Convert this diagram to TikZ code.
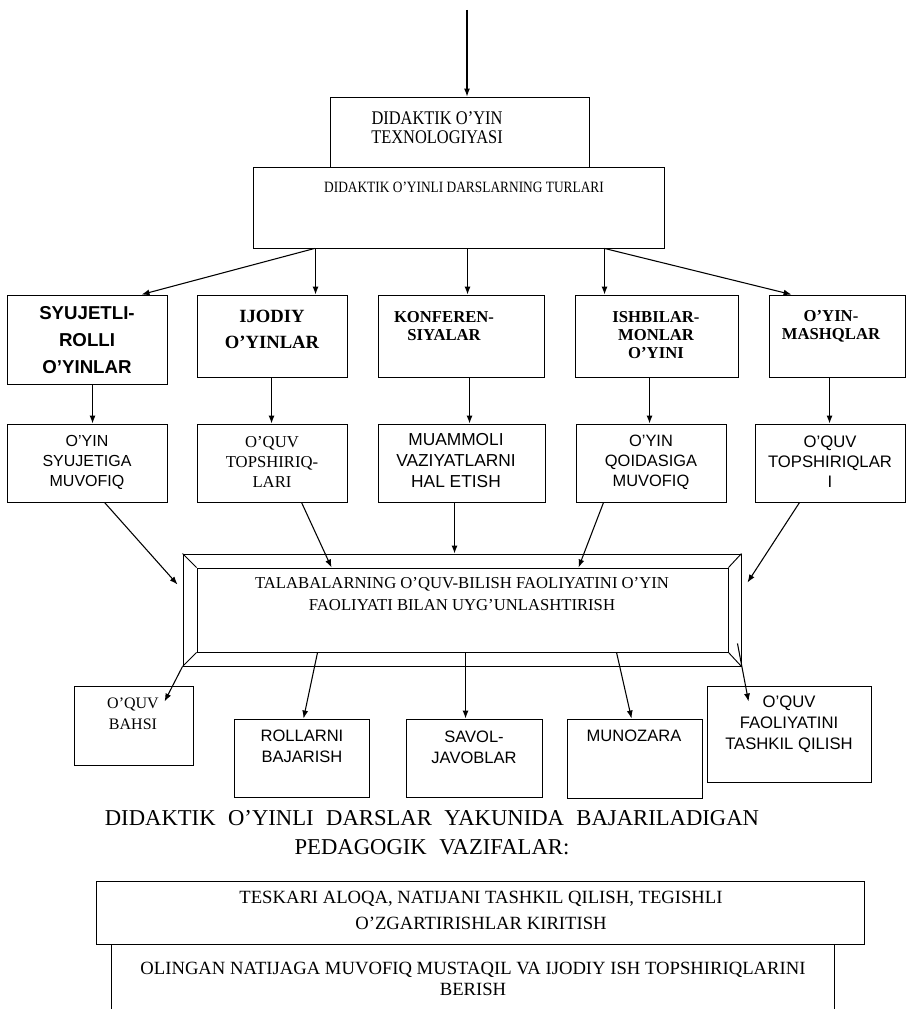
\documentclass[tikz,border=0pt]{standalone}
\usepackage{fontspec}
\setmainfont{Liberation Serif}
\newfontfamily\arialfont[Ligatures=TeX]{Liberation Sans}
\newfontfamily\narrowserif[FakeStretch=0.85,Ligatures=TeX]{Liberation Serif}
\usetikzlibrary{arrows.meta,positioning,fit,calc}

\newcommand{\fsz}[2]{\fontsize{#1}{#2}\selectfont}
\newcommand{\widesp}{\spaceskip=0.55em\relax}

\begin{document}
\begin{tikzpicture}[x=0.75pt,y=-0.75pt,>={Latex[length=6pt,width=4.5pt]}]
	\tikzstyle{box}
	  =[draw, rectangle, inner sep=0pt, line width=0.7pt]
	\tikzstyle{txt}
	  =[inner sep=0pt, align=center]
	\tikzstyle{arr}
	  =[->, line width=0.8pt]

	\useasboundingbox (0,0) rectangle (912,1009);

	% top
	\coordinate (source) at (467,10);
	\node[box,fit={(330,97) (589,167)}] (technology) {};
	\node[txt,font=\narrowserif\fsz{14.5}{14.25}] (technology_t)
	  at (437,127.5) {DIDAKTIK O'YIN\\ TEXNOLOGIYASI};
	\node[box,fit={(253,167) (664,248)}] (types) {};
	\node[txt,font=\narrowserif\fsz{11.8}{14}] (types_t)
	  at (464,187) {DIDAKTIK O'YINLI DARSLARNING TURLARI};

	% kinds of lessons
	\node[box,fit={(7,295) (167,384)}] (story_role) {};
	\node[txt,font=\arialfont\bfseries\fsz{14}{20}] (story_role_t)
	  at (87,340) {SYUJETLI-\\ROLLI\\O'YINLAR};
	\node[box,fit={(197,295) (347,377)}] (creative) {};
	\node[txt,font=\bfseries\fsz{14}{19}] (creative_t)
	  at (272,329.5) {IJODIY\\O'YINLAR};
	\node[box,fit={(378,295) (544,377)}] (conference) {};
	\node[txt,font=\bfseries\fsz{12.5}{13.5}] (conference_t)
	  at (444,326) {KONFEREN-\\SIYALAR};
	\node[box,fit={(575,295) (738,377)}] (business) {};
	\node[txt,font=\bfseries\fsz{12.5}{13.5}] (business_t)
	  at (656,335) {ISHBILAR-\\MONLAR\\O'YINI};
	\node[box,fit={(769,295) (905,377)}] (exercise) {};
	\node[txt,font=\bfseries\fsz{12.5}{13.5}] (exercise_t)
	  at (831,326) {O'YIN-\\MASHQLAR};

	% second row
	\node[box,fit={(7,424) (167,502)}] (story_plot) {};
	\node[txt,font=\arialfont\fsz{12}{15}] (story_plot_t)
	  at (87,462) {O'YIN\\SYUJETIGA\\MUVOFIQ};
	\node[box,fit={(197,424) (347,502)}] (tasks) {};
	\node[txt,font=\fsz{12.5}{15}] (tasks_t)
	  at (272,462) {O'QUV\\TOPSHIRIQ-\\LARI};
	\node[box,fit={(378,424) (545,502)}] (problem) {};
	\node[txt,font=\arialfont\fsz{13}{15.75}] (problem_t)
	  at (456,461) {MUAMMOLI\\VAZIYATLARNI\\HAL ETISH};
	\node[box,fit={(576,424) (726,502)}] (game_rule) {};
	\node[txt,font=\arialfont\fsz{12.3}{15}] (game_rule_t)
	  at (651,462) {O'YIN\\QOIDASIGA\\MUVOFIQ};
	\node[box,fit={(755,424) (905,502)}] (tasks_b) {};
	\node[txt,font=\arialfont\fsz{12.5}{15}] (tasks_b_t)
	  at (830,462) {O'QUV\\TOPSHIRIQLAR\\I};

	% central frame
	\node[box,fit={(183,554) (741,666)}] (combine) {};
	\node[box,fit={(197,568) (728,652)}] (combine_in) {};
	\draw[line width=0.7pt] (combine.north west)--(combine_in.north west);
	\draw[line width=0.7pt] (combine.north east)--(combine_in.north east);
	\draw[line width=0.7pt] (combine.south west)--(combine_in.south west);
	\draw[line width=0.7pt] (combine.south east)--(combine_in.south east);
	\node[txt,font=\fsz{12.5}{16.5}] (combine_t)
	  at (462,594) {TALABALARNING O'QUV-BILISH FAOLIYATINI O'YIN\\FAOLIYATI BILAN UYG'UNLASHTIRISH};

	% third row
	\node[box,fit={(74,686) (193,765)}] (debate) {};
	\node[txt,font=\fsz{12}{15.75}] (debate_t)
	  at (133,713.5) {O'QUV\\BAHSI};
	\node[box,fit={(234,719) (369,797)}] (roles) {};
	\node[txt,font=\arialfont\fsz{12.4}{15.75}] (roles_t)
	  at (302,746.5) {ROLLARNI\\BAJARISH};
	\node[box,fit={(406,719) (542,797)}] (questions) {};
	\node[txt,font=\arialfont\fsz{12.4}{15.75}] (questions_t)
	  at (474,747) {SAVOL-\\JAVOBLAR};
	\node[box,fit={(567,719) (702,798)}] (discussion) {};
	\node[txt,font=\arialfont\fsz{12.4}{15.75}] (discussion_t)
	  at (634,736) {MUNOZARA};
	\node[box,fit={(707,686) (871,782)}] (organise) {};
	\node[txt,font=\arialfont\fsz{12.5}{15.75}] (organise_t)
	  at (789,724) {O'QUV\\FAOLIYATINI\\TASHKIL QILISH};

	% closing tasks
	\node[txt,font={\fsz{17}{22}\widesp}] (heading)
	  at (432,832.5) {DIDAKTIK O'YINLI DARSLAR YAKUNIDA BAJARILADIGAN\\PEDAGOGIK VAZIFALAR:};
	\node[box,fit={(96,881) (864,944)}] (feedback) {};
	\node[txt,font=\fsz{14}{19.5}] (feedback_t)
	  at (481,910) {TESKARI ALOQA, NATIJANI TASHKIL QILISH, TEGISHLI\\O'ZGARTIRISHLAR KIRITISH};
	\node[box,fit={(111,944) (834,1020)}] (assign) {};
	\node[txt,font=\fsz{14}{15.75}] (assign_t)
	  at (473,978.5) {OLINGAN NATIJAGA MUVOFIQ MUSTAQIL VA IJODIY ISH TOPSHIRIQLARINI\\BERISH};

	\draw[arr] (source)--(source |- technology.north);

	\draw[arr] ($(types.south west)+(62,0)$)--($(story_role.north west)+(135,0)$);
	\draw[arr] ($(types.south west)+(63,0)$)--($(creative.north west)+(119,0)$);
	\draw[arr] ($(types.south west)+(215,0)$)--($(conference.north west)+(90,0)$);
	\draw[arr] ($(types.south west)+(352,0)$)--($(business.north west)+(30,0)$);
	\draw[arr] ($(types.south west)+(352,0)$)--($(exercise.north west)+(23,0)$);

	\draw[arr] ($(story_role.south west)+(86,0)$)--($(story_plot.north west)+(86,0)$);
	\draw[arr] ($(creative.south west)+(75,0)$)--($(tasks.north west)+(75,0)$);
	\draw[arr] ($(conference.south west)+(92,0)$)--($(problem.north west)+(92,0)$);
	\draw[arr] ($(business.south west)+(75,0)$)--($(game_rule.north west)+(74,0)$);
	\draw[arr] ($(exercise.south west)+(61,0)$)--($(tasks_b.north west)+(75,0)$);

	\draw[arr] ($(story_plot.south west)+(98,0)$)--($(combine.north west)+(-5,31)$);
	\draw[arr] ($(tasks.south west)+(105,0)$)--($(combine_in.north west)+(135,0)$);
	\draw[arr] ($(problem.south west)+(77,0)$)--($(combine.north west)+(272,0)$);
	\draw[arr] ($(game_rule.south west)+(28,0)$)--($(combine_in.north west)+(382,0)$);
	\draw[arr] ($(tasks_b.south west)+(45,0)$)--($(combine.north east)+(6,29)$);

	\draw[arr] (combine.south west)--($(debate.north west)+(91,16)$);
	\draw[arr] ($(combine_in.south west)+(121,0)$)--($(roles.north west)+(70,0)$);
	\draw[arr] ($(combine_in.south west)+(269,0)$)--($(questions.north west)+(60,0)$);
	\draw[arr] ($(combine_in.south west)+(420,0)$)--($(discussion.north west)+(65,0)$);
	\draw[arr] ($(combine.south east)+(-4,-23)$)--($(organise.north west)+(42,16)$);
\end{tikzpicture}
\end{document}
